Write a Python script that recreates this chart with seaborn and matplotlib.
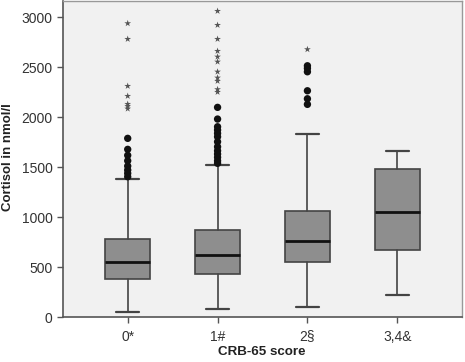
import matplotlib
matplotlib.use("Agg")
import matplotlib.pyplot as plt
import seaborn as sns

categories = ["0*", "1#", "2§", "3,4&"]
whislo = [50, 77, 97, 220]
q1 = [377, 427, 547, 673]
med = [550, 623, 757, 1053]
q3 = [777, 870, 1063, 1480]
whishi = [1380, 1523, 1830, 1660]
circles = [
    [1787, 1677, 1617, 1563, 1510, 1470, 1437, 1403],
    [2097, 1980, 1903, 1870, 1837, 1803, 1753, 1703, 1663, 1630, 1597, 1563, 1537],
    [2513, 2487, 2453, 2263, 2183, 2127],
    [],
]
stars = [
    [2937, 2780, 2310, 2210, 2130, 2110, 2083],
    [3060, 2920, 2780, 2660, 2603, 2553, 2453, 2393, 2360, 2277, 2250],
    [2677],
    [],
]
yticks = [0, 500, 1000, 1500, 2000, 2500, 3000]

sns.set_theme(style="white")
plt.rcParams['font.family'] = ['Liberation Sans', 'DejaVu Sans']

fig = plt.figure(figsize=(4.65, 3.62), dpi=100)
ax = fig.add_axes([0.1355, 0.1243, 0.858, 0.8727])
ax.set_facecolor("#f1f1f1")

stats = []
for i in range(len(categories)):
    stats.append(dict(whislo=whislo[i], q1=q1[i], med=med[i], q3=q3[i],
                      whishi=whishi[i], fliers=[], label=categories[i]))
ax.bxp(stats, positions=range(len(categories)), widths=0.5, patch_artist=True,
       showfliers=False,
       boxprops=dict(facecolor="#8e8e8e", edgecolor="#444444", linewidth=1.2),
       medianprops=dict(color="#111111", linewidth=2),
       whiskerprops=dict(color="#444444", linewidth=1.2),
       capprops=dict(color="#444444", linewidth=1.6),
       capwidths=0.25)

for i in range(len(categories)):
    if circles[i]:
        ax.scatter([i] * len(circles[i]), circles[i], s=28, color="#111111",
                   edgecolors="none", zorder=3)
    if stars[i]:
        ax.scatter([i] * len(stars[i]), stars[i], s=26, marker="*", color="#555555",
                   edgecolors="none", zorder=3)

ax.set_xlim(-0.72, 3.72)
ax.set_ylim(0, 3160)
ax.set_yticks(yticks)
ax.set_yticklabels([str(v) for v in yticks], fontsize=10, color="#333333")
ax.set_xticks(range(len(categories)))
ax.set_xticklabels(categories, fontsize=10, color="#333333")
ax.tick_params(axis="both", direction="out", length=4, width=1, color="#555555",
               bottom=True, left=True)
ax.tick_params(axis="x", pad=5)
ax.set_xlabel("")
ax.set_ylabel("")
fig.text(0.5634, 0.028, "CRB-65 score", fontsize=9.6, fontweight="bold",
         color="#222222", ha="center", va="center")
fig.text(0.018, 0.566, "Cortisol in nmol/l", fontsize=9.5, fontweight="bold",
         color="#222222", ha="center", va="center", rotation=90)
for side in ["left", "bottom"]:
    ax.spines[side].set_color("#555555")
    ax.spines[side].set_linewidth(1.2)
for side in ["top", "right"]:
    ax.spines[side].set_color("#999999")
    ax.spines[side].set_linewidth(1)

fig.savefig("out.png", dpi=100, facecolor="white")
